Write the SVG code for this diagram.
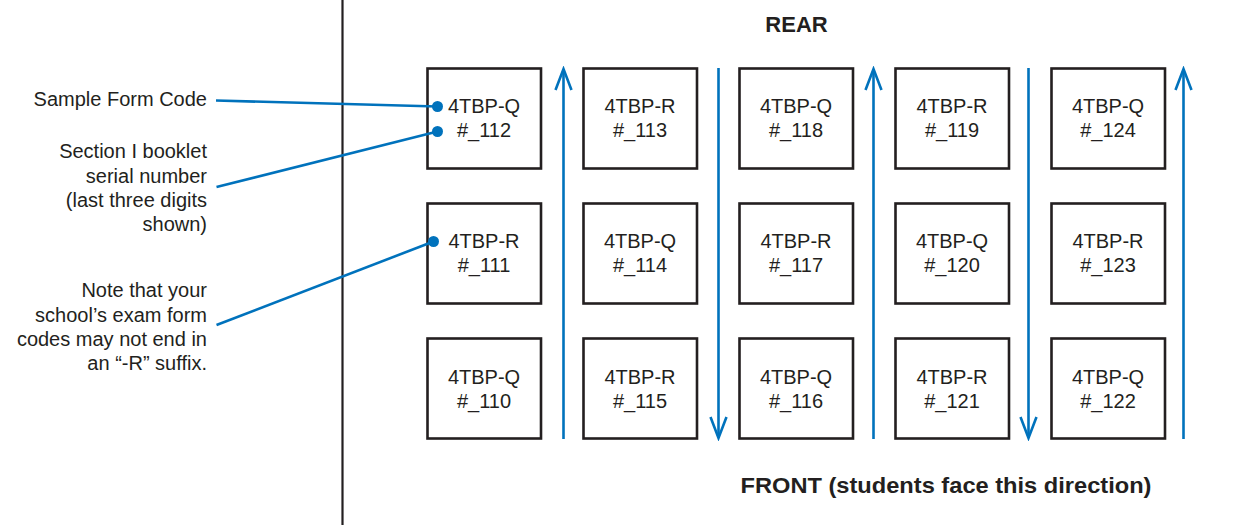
<svg xmlns="http://www.w3.org/2000/svg" width="1255" height="525" viewBox="0 0 1255 525">
<defs>
<style>
.box{fill:#fff;stroke:#231f20;stroke-width:2.6}
.t{font-family:"Liberation Sans",Arial,sans-serif;font-size:20px;fill:#231f20}
.c{text-anchor:middle}
.r{text-anchor:end}
.b{font-weight:bold;font-size:22px}
.flow{fill:none;stroke:#0072bc;stroke-width:2.6}
.lead{fill:none;stroke:#0072bc;stroke-width:2.6}
.dot{fill:#0072bc}
</style>
<marker id="chev" markerUnits="userSpaceOnUse" markerWidth="26" markerHeight="22" viewBox="-23 -11 26 22" refX="0" refY="0" orient="auto">
<path d="M-21,-8 L0,0 L-21,8" fill="none" stroke="#0072bc" stroke-width="2.6"/>
</marker>
</defs>
<rect width="1255" height="525" fill="#fff"/>
<line x1="342.5" y1="0" x2="342.5" y2="525" stroke="#231f20" stroke-width="2.2"/>
<text class="t c b" x="796.5" y="31.5">REAR</text>
<text class="t c b" x="946" y="493" textLength="411" lengthAdjust="spacingAndGlyphs">FRONT (students face this direction)</text>

<g id="label-form-code">
<text class="t r" x="207" y="106">Sample Form Code</text>
</g>
<g id="label-serial">
<text class="t r" x="207" y="158">Section I booklet</text>
<text class="t r" x="207" y="182.5">serial number</text>
<text class="t r" x="207" y="206.5">(last three digits</text>
<text class="t r" x="207" y="230.5">shown)</text>
</g>
<g id="label-note">
<text class="t r" x="207" y="297">Note that your</text>
<text class="t r" x="207" y="321.5">school’s exam form</text>
<text class="t r" x="207" y="345.5">codes may not end in</text>
<text class="t r" x="207" y="369.5">an “-R” suffix.</text>
</g>

<g id="seat-112"><rect class="box" x="427.5" y="68.5" width="113.5" height="100"/><text class="t c" x="484" y="113">4TBP-Q</text><text class="t c" x="484" y="137">#_112</text></g>
<g id="seat-111"><rect class="box" x="427.5" y="203.5" width="113.5" height="100"/><text class="t c" x="484" y="248">4TBP-R</text><text class="t c" x="484" y="272">#_111</text></g>
<g id="seat-110"><rect class="box" x="427.5" y="338.5" width="113.5" height="100"/><text class="t c" x="484" y="384">4TBP-Q</text><text class="t c" x="484" y="408">#_110</text></g>

<g id="seat-113"><rect class="box" x="583.5" y="68.5" width="113.5" height="100"/><text class="t c" x="640" y="113">4TBP-R</text><text class="t c" x="640" y="137">#_113</text></g>
<g id="seat-114"><rect class="box" x="583.5" y="203.5" width="113.5" height="100"/><text class="t c" x="640" y="248">4TBP-Q</text><text class="t c" x="640" y="272">#_114</text></g>
<g id="seat-115"><rect class="box" x="583.5" y="338.5" width="113.5" height="100"/><text class="t c" x="640" y="384">4TBP-R</text><text class="t c" x="640" y="408">#_115</text></g>

<g id="seat-118"><rect class="box" x="739.5" y="68.5" width="113.5" height="100"/><text class="t c" x="796" y="113">4TBP-Q</text><text class="t c" x="796" y="137">#_118</text></g>
<g id="seat-117"><rect class="box" x="739.5" y="203.5" width="113.5" height="100"/><text class="t c" x="796" y="248">4TBP-R</text><text class="t c" x="796" y="272">#_117</text></g>
<g id="seat-116"><rect class="box" x="739.5" y="338.5" width="113.5" height="100"/><text class="t c" x="796" y="384">4TBP-Q</text><text class="t c" x="796" y="408">#_116</text></g>

<g id="seat-119"><rect class="box" x="895.5" y="68.5" width="113.5" height="100"/><text class="t c" x="952" y="113">4TBP-R</text><text class="t c" x="952" y="137">#_119</text></g>
<g id="seat-120"><rect class="box" x="895.5" y="203.5" width="113.5" height="100"/><text class="t c" x="952" y="248">4TBP-Q</text><text class="t c" x="952" y="272">#_120</text></g>
<g id="seat-121"><rect class="box" x="895.5" y="338.5" width="113.5" height="100"/><text class="t c" x="952" y="384">4TBP-R</text><text class="t c" x="952" y="408">#_121</text></g>

<g id="seat-124"><rect class="box" x="1051.5" y="68.5" width="113.5" height="100"/><text class="t c" x="1108" y="113">4TBP-Q</text><text class="t c" x="1108" y="137">#_124</text></g>
<g id="seat-123"><rect class="box" x="1051.5" y="203.5" width="113.5" height="100"/><text class="t c" x="1108" y="248">4TBP-R</text><text class="t c" x="1108" y="272">#_123</text></g>
<g id="seat-122"><rect class="box" x="1051.5" y="338.5" width="113.5" height="100"/><text class="t c" x="1108" y="384">4TBP-Q</text><text class="t c" x="1108" y="408">#_122</text></g>

<g id="connectors">
<line class="flow" x1="563.5" y1="439" x2="563.5" y2="69" marker-end="url(#chev)"/>
<line class="flow" x1="718.5" y1="68" x2="718.5" y2="438" marker-end="url(#chev)"/>
<line class="flow" x1="873.5" y1="439" x2="873.5" y2="69" marker-end="url(#chev)"/>
<line class="flow" x1="1028.5" y1="68" x2="1028.5" y2="438" marker-end="url(#chev)"/>
<line class="flow" x1="1183.5" y1="439" x2="1183.5" y2="69" marker-end="url(#chev)"/>
<line class="lead" x1="216" y1="100.5" x2="437.5" y2="106.5"/>
<circle class="dot" cx="437.5" cy="106.5" r="5.5"/>
<line class="lead" x1="216.5" y1="187" x2="437.5" y2="131.5"/>
<circle class="dot" cx="437.5" cy="131.5" r="5.5"/>
<line class="lead" x1="216.5" y1="325" x2="433.5" y2="241.5"/>
<circle class="dot" cx="433.5" cy="241.5" r="5.5"/>
</g>
</svg>
